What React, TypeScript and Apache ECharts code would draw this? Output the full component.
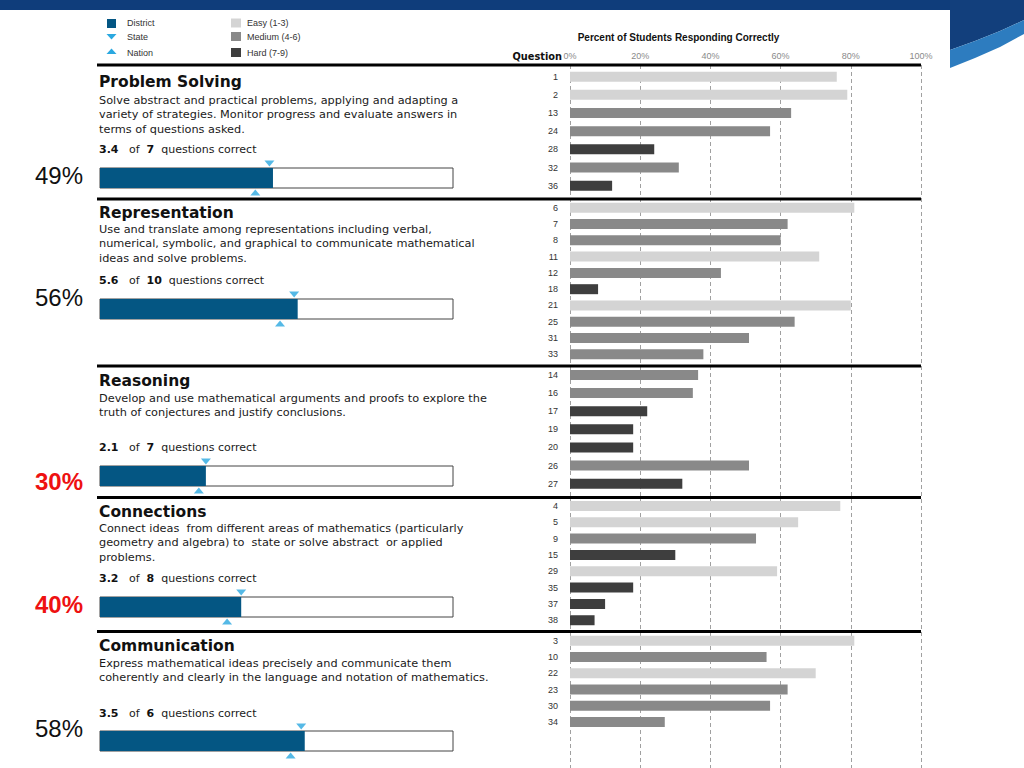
import React, { useEffect, useRef } from 'react';
import * as echarts from 'echarts';

const FONT = 'DejaVu Sans';
const SANS = 'Liberation Sans';

// ---------- data ----------
const strands = ['Problem Solving', 'Representation', 'Reasoning', 'Connections', 'Communication'];
const districtPct = [49, 56, 30, 40, 58];
const statePct = [48, 55, 30, 40, 57];
const nationPct = [44, 51, 28, 36, 54];
const pointsEarned = ['3.4', '5.6', '2.1', '3.2', '3.5'];
const questionCounts = [7, 10, 7, 8, 6];
const flagged = [false, false, true, true, false];

const psDescription = [
  'Solve abstract and practical problems, applying and adapting a',
  'variety of strategies. Monitor progress and evaluate answers in',
  'terms of questions asked.',
];
const repDescription = [
  'Use and translate among representations including verbal,',
  'numerical, symbolic, and graphical to communicate mathematical',
  'ideas and solve problems.',
];
const reaDescription = [
  'Develop and use mathematical arguments and proofs to explore the',
  'truth of conjectures and justify conclusions.',
];
const conDescription = [
  'Connect ideas  from different areas of mathematics (particularly',
  'geometry and algebra) to  state or solve abstract  or applied',
  'problems.',
];
const comDescription = [
  'Express mathematical ideas precisely and communicate them',
  'coherently and clearly in the language and notation of mathematics.',
];

const psQuestions = ['1', '2', '13', '24', '28', '32', '36'];
const psValues = [76, 79, 63, 57, 24, 31, 12];
const psLevels = ['Easy', 'Easy', 'Medium', 'Medium', 'Hard', 'Medium', 'Hard'];

const repQuestions = ['6', '7', '8', '11', '12', '18', '21', '25', '31', '33'];
const repValues = [81, 62, 60, 71, 43, 8, 80, 64, 51, 38];
const repLevels = ['Easy', 'Medium', 'Medium', 'Easy', 'Medium', 'Hard', 'Easy', 'Medium', 'Medium', 'Medium'];

const reaQuestions = ['14', '16', '17', '19', '20', '26', '27'];
const reaValues = [36.5, 35, 22, 18, 18, 51, 32];
const reaLevels = ['Medium', 'Medium', 'Hard', 'Hard', 'Hard', 'Medium', 'Hard'];

const conQuestions = ['4', '5', '9', '15', '29', '35', '37', '38'];
const conValues = [77, 65, 53, 30, 59, 18, 10, 7];
const conLevels = ['Easy', 'Easy', 'Medium', 'Hard', 'Easy', 'Hard', 'Hard', 'Hard'];

const comQuestions = ['3', '10', '22', '23', '30', '34'];
const comValues = [81, 56, 70, 62, 57, 27];
const comLevels = ['Easy', 'Medium', 'Easy', 'Medium', 'Medium', 'Medium'];

const levelNames = ['Easy (1-3)', 'Medium (4-6)', 'Hard (7-9)'];
const axisTicks = [0, 20, 40, 60, 80, 100];

// ---------- styling / layout ----------
const levelColors: Record<string, string> = { Easy: '#d4d4d4', Medium: '#898989', Hard: '#3e3e3e' };
const DISTRICT = '#045683';
const MARKER = '#2aa8e0';

const sections = [
  { q: psQuestions, v: psValues, l: psLevels, d: psDescription },
  { q: repQuestions, v: repValues, l: repLevels, d: repDescription },
  { q: reaQuestions, v: reaValues, l: reaLevels, d: reaDescription },
  { q: conQuestions, v: conValues, l: conLevels, d: conDescription },
  { q: comQuestions, v: comValues, l: comLevels, d: comDescription },
];

const qLayout = [
  { top: 67.6, height: 127.2 },
  { top: 199.6, height: 162.9 },
  { top: 365.9, height: 126.8 },
  { top: 497.8, height: 130.6 },
  { top: 632.6, height: 97.6 },
];
const dTop = [168, 299, 466, 597, 731];
const titleY = [82, 213, 381, 512, 646];
const descY = [100, 229, 398, 528, 663];
const correctY = [149, 280, 447, 578, 713];
const bigY = [175.5, 297.5, 481.5, 604.5, 728];
const ruleY = [65, 199, 366, 497.5, 631.5];

function buildOption() {
  const grid: any[] = [{ left: 570, width: 351, top: 65, height: 703 }];
  const xAxis: any[] = [
    {
      gridIndex: 0, type: 'value', min: 0, max: 100, interval: 20, position: 'top',
      axisLine: { show: false }, axisTick: { show: false },
      axisLabel: {
        formatter: (v: number) => (axisTicks.includes(v) ? v + '%' : ''),
        color: '#8a8a8a', fontSize: 9, fontFamily: SANS, margin: 5,
      },
      splitLine: { show: true, lineStyle: { color: '#a0a0a0', type: [4, 3], width: 1 } },
    },
  ];
  const yAxis: any[] = [{ gridIndex: 0, type: 'value', min: 0, max: 1, show: false, splitLine: { show: false } }];
  const series: any[] = [];

  sections.forEach((s, i) => {
    grid.push({ left: 570, width: 351, top: qLayout[i].top, height: qLayout[i].height });
    xAxis.push({ gridIndex: 1 + i, type: 'value', min: 0, max: 100, show: false, splitLine: { show: false } });
    yAxis.push({
      gridIndex: 1 + i, type: 'category', data: s.q, inverse: true,
      axisLine: { show: false }, axisTick: { show: false }, splitLine: { show: false },
      axisLabel: { color: '#333', fontSize: 9, fontFamily: SANS, margin: 12 },
    });
    series.push({
      type: 'bar', name: strands[i], xAxisIndex: 1 + i, yAxisIndex: 1 + i, barWidth: 10,
      data: s.v.map((v, k) => ({ value: v, itemStyle: { color: levelColors[s.l[k]] } })),
      z: 3,
    });
  });

  sections.forEach((s, i) => {
    const gi = 6 + i;
    grid.push({ left: 100, width: 353, top: dTop[i], height: 20 });
    xAxis.push({ gridIndex: gi, type: 'value', min: 0, max: 100, show: false, splitLine: { show: false } });
    yAxis.push({ gridIndex: gi, type: 'category', data: [strands[i]], show: false });
    series.push({
      type: 'bar', name: 'District', xAxisIndex: gi, yAxisIndex: gi, barWidth: 20,
      data: [districtPct[i]], itemStyle: { color: DISTRICT },
      showBackground: true,
      backgroundStyle: { color: '#fff', borderColor: '#444', borderWidth: 1 },
    });
    series.push({
      type: 'scatter', name: 'State', xAxisIndex: gi, yAxisIndex: gi, clip: false,
      symbol: 'triangle', symbolRotate: 180, symbolSize: [10, 6], symbolOffset: [0, -14.5],
      itemStyle: { color: MARKER }, data: [[statePct[i], 0]], z: 5,
    });
    series.push({
      type: 'scatter', name: 'Nation', xAxisIndex: gi, yAxisIndex: gi, clip: false,
      symbol: 'triangle', symbolSize: [10, 6], symbolOffset: [0, 14.5],
      itemStyle: { color: MARKER }, data: [[nationPct[i], 0]], z: 5,
    });
  });

  const g: any[] = [];
  // page decoration
  g.push({ type: 'rect', shape: { x: 0, y: 0, width: 1024, height: 10 }, style: { fill: '#0f3d7b' }, z: 1 });
  g.push({
    type: 'polygon', z: 1,
    shape: { points: [[950, 0], [1024, 0], [1024, 20], [1000, 31], [975, 41], [950, 50]] },
    style: { fill: '#123f7c' },
  });
  g.push({
    type: 'polygon', z: 1,
    shape: { points: [[950, 50], [975, 41], [1000, 31], [1024, 20], [1024, 34], [1000, 47], [975, 58], [950, 68]] },
    style: { fill: '#2d7cbf' },
  });

  // legend
  const lx = 107, lx2 = 231;
  const rowsY = [23, 36.5, 52.5];
  g.push({ type: 'rect', shape: { x: lx, y: 19, width: 9, height: 9 }, style: { fill: DISTRICT } });
  g.push({ type: 'polygon', shape: { points: [[lx - 0.5, 34], [lx + 9.5, 34], [lx + 4.5, 39.5]] }, style: { fill: MARKER } });
  g.push({ type: 'polygon', shape: { points: [[lx - 0.5, 54], [lx + 9.5, 54], [lx + 4.5, 48.5]] }, style: { fill: MARKER } });
  ['District', 'State', 'Nation'].forEach((t, k) => {
    g.push({ type: 'text', x: 127, y: rowsY[k], style: { text: t, fontSize: 9, fontFamily: SANS, fill: '#333', verticalAlign: 'middle' } });
  });
  const lvKeys = ['Easy', 'Medium', 'Hard'];
  levelNames.forEach((t, k) => {
    g.push({ type: 'rect', shape: { x: lx2, y: rowsY[k] - 4.5, width: 10, height: 9 }, style: { fill: levelColors[lvKeys[k]] } });
    g.push({ type: 'text', x: 247, y: rowsY[k], style: { text: t, fontSize: 9, fontFamily: SANS, fill: '#333', verticalAlign: 'middle' } });
  });

  // header
  g.push({
    type: 'text', x: 678.5, y: 37,
    style: { text: 'Percent of Students Responding Correctly', fontSize: 10, fontWeight: 'bold', fontFamily: SANS, fill: '#111', align: 'center', verticalAlign: 'middle' },
  });
  g.push({
    type: 'text', x: 562, y: 56,
    style: { text: 'Question', fontSize: 9.8, fontWeight: 'bold', fontFamily: FONT, fill: '#111', align: 'right', verticalAlign: 'middle' },
  });

  // section texts
  sections.forEach((s, i) => {
    g.push({
      type: 'text', x: 99, y: titleY[i],
      style: { text: strands[i], fontSize: 15.5, fontWeight: 'bold', fontFamily: FONT, fill: '#111', verticalAlign: 'middle' },
    });
    s.d.forEach((line, k) => {
      g.push({
        type: 'text', x: 99, y: descY[i] + k * 14.7,
        style: { text: line, fontSize: 11.3, fontFamily: FONT, fill: '#1a1a1a', verticalAlign: 'middle' },
      });
    });
    g.push({
      type: 'text', x: 99, y: correctY[i],
      style: {
        text: `{b|${pointsEarned[i]}}   of  {b|${questionCounts[i]}}  questions correct`,
        fontSize: 11, fontFamily: FONT, fill: '#1a1a1a', verticalAlign: 'middle',
        rich: { b: { fontSize: 11, fontFamily: FONT, fontWeight: 'bold', fill: '#111' } },
      },
    });
    g.push({
      type: 'text', x: 35, y: bigY[i],
      style: {
        text: districtPct[i] + '%', fontSize: 24, fontFamily: SANS,
        fontWeight: flagged[i] ? 'bold' : 'normal', fill: flagged[i] ? '#ee1111' : '#111',
        verticalAlign: 'middle',
      },
    });
  });

  // heavy rules
  ruleY.forEach((y) => {
    g.push({ type: 'line', z: 50, shape: { x1: 97, y1: y, x2: 921, y2: y }, style: { stroke: '#000', lineWidth: 3 } });
  });

  return {
    animation: false,
    backgroundColor: '#ffffff',
    grid, xAxis, yAxis, series,
    graphic: { elements: g },
  };
}

export default function App() {
  const ref = useRef<HTMLDivElement>(null);
  useEffect(() => {
    const chart = echarts.init(ref.current!, null, { renderer: 'svg' });
    chart.setOption(buildOption() as any);
    return () => chart.dispose();
  }, []);
  return (
    <div
      ref={ref}
      style={{ position: 'absolute', left: 0, top: 0, width: 1024, height: 768, background: '#fff' }}
    />
  );
}
